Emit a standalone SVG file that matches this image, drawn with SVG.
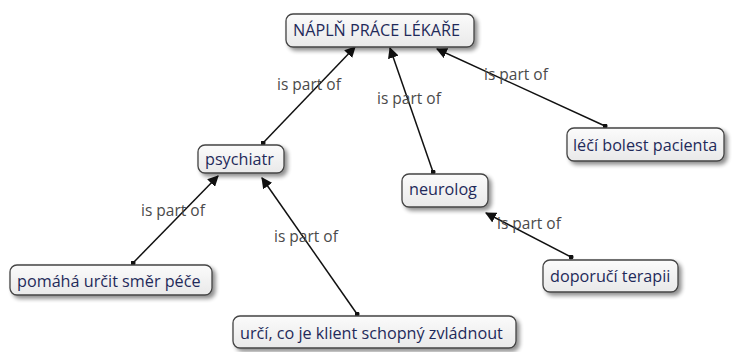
<svg xmlns="http://www.w3.org/2000/svg" width="739" height="352" viewBox="0 0 739 352">
  <defs>
    <marker id="arrow" viewBox="0 0 10 10" refX="9" refY="5" markerWidth="11" markerHeight="11" markerUnits="userSpaceOnUse" orient="auto">
      <path d="M0,0 L10,5 L0,10 z" fill="#111"/>
    </marker>
    <marker id="dot" viewBox="0 0 6 6" refX="3" refY="3" markerWidth="5" markerHeight="5" markerUnits="userSpaceOnUse">
      <circle cx="3" cy="3" r="3" fill="#111"/>
    </marker>
    <linearGradient id="fill" x1="0" y1="0" x2="0" y2="1">
      <stop offset="0" stop-color="#fbfbfb"/>
      <stop offset="1" stop-color="#e9e9e9"/>
    </linearGradient>
    <filter id="shadow" x="-20%" y="-30%" width="140%" height="170%">
      <feGaussianBlur in="SourceAlpha" stdDeviation="2"/>
      <feOffset dx="3" dy="3" result="b"/>
      <feComponentTransfer><feFuncA type="linear" slope="0.45"/></feComponentTransfer>
      <feMerge><feMergeNode/><feMergeNode in="SourceGraphic"/></feMerge>
    </filter>
  </defs>
  <style>
    .box { fill: url(#fill); stroke: #444; stroke-width: 1.3; filter: url(#shadow); }
    .txt { font-family: "Open Sans", "Noto Sans", "DejaVu Sans", sans-serif; font-size: 16.2px; fill: #1f2a5a; }
    .lbl { font-family: "Open Sans", "Noto Sans", "DejaVu Sans", sans-serif; font-size: 15.5px; fill: #4a4a4a; }
    .edge { stroke: #111; stroke-width: 1.5; fill: none; marker-start: url(#dot); marker-end: url(#arrow); }
  </style>
  <rect width="739" height="352" fill="#fff"/>

  <g id="connectors">
    <line class="edge" x1="263" y1="143" x2="355" y2="47"/>
    <line class="edge" x1="433" y1="172" x2="390" y2="48"/>
    <line class="edge" x1="605" y1="126" x2="437" y2="49"/>
    <line class="edge" x1="133" y1="263" x2="218" y2="176"/>
    <line class="edge" x1="357" y1="314" x2="262" y2="178"/>
    <line class="edge" x1="571" y1="257" x2="486" y2="213"/>
    <text class="lbl" x="277" y="90">is part of</text>
    <text class="lbl" x="377" y="104">is part of</text>
    <text class="lbl" x="484" y="80">is part of</text>
    <text class="lbl" x="141" y="216">is part of</text>
    <text class="lbl" x="274" y="242">is part of</text>
    <text class="lbl" x="497" y="229">is part of</text>
  </g>

  <g id="node-napln">
    <rect class="box" x="286" y="14" width="188" height="33" rx="7"/>
    <text class="txt" x="293" y="36">NÁPLŇ PRÁCE LÉKAŘE</text>
  </g>
  <g id="node-psychiatr">
    <rect class="box" x="198" y="145" width="86" height="28" rx="7"/>
    <text class="txt" x="205" y="165">psychiatr</text>
  </g>
  <g id="node-neurolog">
    <rect class="box" x="402" y="174" width="86" height="33" rx="7"/>
    <text class="txt" x="409" y="195">neurolog</text>
  </g>
  <g id="node-leci">
    <rect class="box" x="567" y="128" width="157" height="33" rx="7"/>
    <text class="txt" x="573" y="151">léčí bolest pacienta</text>
  </g>
  <g id="node-pomaha">
    <rect class="box" x="10" y="265" width="202" height="30" rx="7"/>
    <text class="txt" x="17" y="287">pomáhá určit směr péče</text>
  </g>
  <g id="node-urci">
    <rect class="box" x="233" y="316" width="283" height="32" rx="7"/>
    <text class="txt" x="240" y="339">určí, co je klient schopný zvládnout</text>
  </g>
  <g id="node-doporuci">
    <rect class="box" x="543" y="260" width="135" height="32" rx="7"/>
    <text class="txt" x="550" y="282">doporučí terapii</text>
  </g>
</svg>
